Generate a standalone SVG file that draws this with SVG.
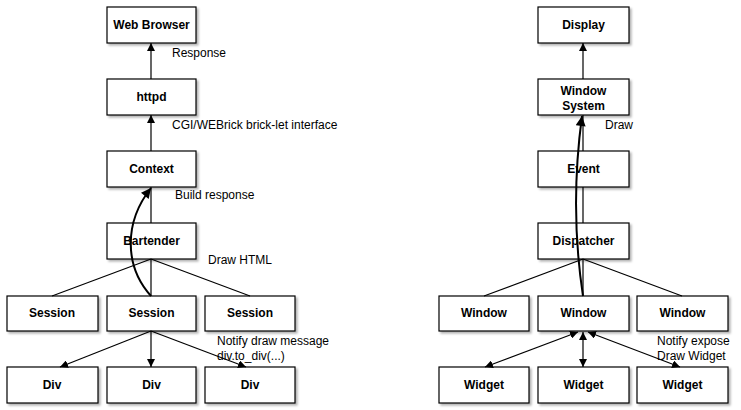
<svg xmlns="http://www.w3.org/2000/svg" width="741" height="410" viewBox="0 0 741 410">
<style>
.box{fill:#fff;stroke:#000;stroke-width:1.2;filter:url(#sh)}
.lbl{font-family:"Liberation Sans",Arial,sans-serif;font-weight:bold;font-size:12px;text-anchor:middle;fill:#000}
.note{font-family:"Liberation Sans",Arial,sans-serif;font-size:12px;fill:#000}
.ln{stroke:#000;stroke-width:1.2;fill:none}
.thick{stroke:#000;stroke-width:2;fill:none}
</style>
<defs>
<filter id="sh" x="-10%" y="-20%" width="130%" height="150%">
<feDropShadow dx="2" dy="2" stdDeviation="1.2" flood-color="#000" flood-opacity="0.3"/>
</filter>
<marker id="ah" viewBox="0 0 10 10" refX="10" refY="5" markerWidth="8" markerHeight="8" markerUnits="userSpaceOnUse" orient="auto-start-reverse">
<path d="M0,0 L10,5 L0,10 z" fill="#000"/>
</marker>
<marker id="ahb" viewBox="0 0 10 10" refX="10" refY="5" markerWidth="11" markerHeight="10" markerUnits="userSpaceOnUse" orient="auto">
<path d="M0,0 L10,5 L0,10 z" fill="#000"/>
</marker>
</defs>

<g id="web-browser"><rect class="box" x="107" y="7" width="89" height="36"/><text class="lbl" x="151.5" y="29">Web Browser</text></g>
<g id="httpd"><rect class="box" x="107" y="79" width="89" height="36"/><text class="lbl" x="151.5" y="101">httpd</text></g>
<g id="context"><rect class="box" x="107" y="151" width="89" height="36"/><text class="lbl" x="151.5" y="173">Context</text></g>
<g id="bartender"><rect class="box" x="107" y="223" width="89" height="36"/><text class="lbl" x="151.5" y="245">Bartender</text></g>
<g id="session-1"><rect class="box" x="7" y="296" width="91" height="35"/><text class="lbl" x="52" y="317">Session</text></g>
<g id="session-2"><rect class="box" x="107" y="296" width="89" height="35"/><text class="lbl" x="151.5" y="317">Session</text></g>
<g id="session-3"><rect class="box" x="205" y="296" width="90" height="35"/><text class="lbl" x="250" y="317">Session</text></g>
<g id="div-1"><rect class="box" x="7" y="367" width="91" height="36"/><text class="lbl" x="52" y="389">Div</text></g>
<g id="div-2"><rect class="box" x="107" y="367" width="89" height="36"/><text class="lbl" x="151.5" y="389">Div</text></g>
<g id="div-3"><rect class="box" x="205" y="367" width="90" height="36"/><text class="lbl" x="250" y="389">Div</text></g>

<g id="display"><rect class="box" x="538" y="7" width="91" height="36"/><text class="lbl" x="583.5" y="29">Display</text></g>
<g id="window-system"><rect class="box" x="538" y="79" width="91" height="36"/><text class="lbl" x="583.5" y="95">Window</text><text class="lbl" x="583.5" y="110">System</text></g>
<g id="event"><rect class="box" x="538" y="151" width="91" height="36"/><text class="lbl" x="583.5" y="173">Event</text></g>
<g id="dispatcher"><rect class="box" x="538" y="223" width="91" height="36"/><text class="lbl" x="583.5" y="245">Dispatcher</text></g>
<g id="window-1"><rect class="box" x="439" y="296" width="90" height="35"/><text class="lbl" x="484" y="317">Window</text></g>
<g id="window-2"><rect class="box" x="538" y="296" width="91" height="35"/><text class="lbl" x="583.5" y="317">Window</text></g>
<g id="window-3"><rect class="box" x="637" y="296" width="91" height="35"/><text class="lbl" x="682.5" y="317">Window</text></g>
<g id="widget-1"><rect class="box" x="439" y="367" width="90" height="36"/><text class="lbl" x="484" y="389">Widget</text></g>
<g id="widget-2"><rect class="box" x="538" y="367" width="91" height="36"/><text class="lbl" x="583.5" y="389">Widget</text></g>
<g id="widget-3"><rect class="box" x="637" y="367" width="91" height="36"/><text class="lbl" x="682.5" y="389">Widget</text></g>

<g id="connectors">
<line class="ln" x1="151" y1="79" x2="151" y2="43" marker-end="url(#ah)"/>
<line class="ln" x1="151" y1="151" x2="151" y2="115" marker-end="url(#ah)"/>
<line class="ln" x1="151" y1="223" x2="151" y2="187"/>
<line class="ln" x1="151" y1="259" x2="52" y2="296"/>
<line class="ln" x1="151" y1="259" x2="151" y2="296"/>
<line class="ln" x1="151" y1="259" x2="250" y2="296"/>
<line class="ln" x1="151" y1="331" x2="60" y2="367" marker-end="url(#ah)"/>
<line class="ln" x1="151" y1="331" x2="151" y2="367" marker-end="url(#ah)"/>
<line class="ln" x1="151" y1="331" x2="246" y2="367" marker-end="url(#ah)"/>
<path class="thick" d="M151,296 C124,266 124,222 151,188" marker-end="url(#ahb)"/>

<line class="ln" x1="583" y1="79" x2="583" y2="43" marker-end="url(#ah)"/>
<line class="ln" x1="583" y1="151" x2="583" y2="115"/>
<line class="ln" x1="583" y1="223" x2="583" y2="187"/>
<line class="ln" x1="583" y1="259" x2="484" y2="296"/>
<line class="ln" x1="583" y1="259" x2="583" y2="296"/>
<line class="ln" x1="583" y1="259" x2="682" y2="296"/>
<line class="ln" x1="578" y1="332" x2="485" y2="367" marker-start="url(#ah)" marker-end="url(#ah)"/>
<line class="ln" x1="583" y1="332" x2="583" y2="367" marker-start="url(#ah)" marker-end="url(#ah)"/>
<line class="ln" x1="588" y1="332" x2="680" y2="367" marker-start="url(#ah)" marker-end="url(#ah)"/>
<path class="thick" d="M583,296 C576,250 572,190 582,116" marker-end="url(#ahb)"/>
</g>

<g id="labels">
<text class="note" x="172" y="57">Response</text>
<text class="note" x="172" y="129">CGI/WEBrick brick-let interface</text>
<text class="note" x="175" y="199">Build response</text>
<text class="note" x="208" y="264">Draw HTML</text>
<text class="note" x="217" y="345">Notify draw message</text>
<text class="note" x="217" y="360">div.to_div(...)</text>
<text class="note" x="605" y="129">Draw</text>
<text class="note" x="657" y="345">Notify expose</text>
<text class="note" x="657" y="360">Draw Widget</text>
</g>
</svg>
